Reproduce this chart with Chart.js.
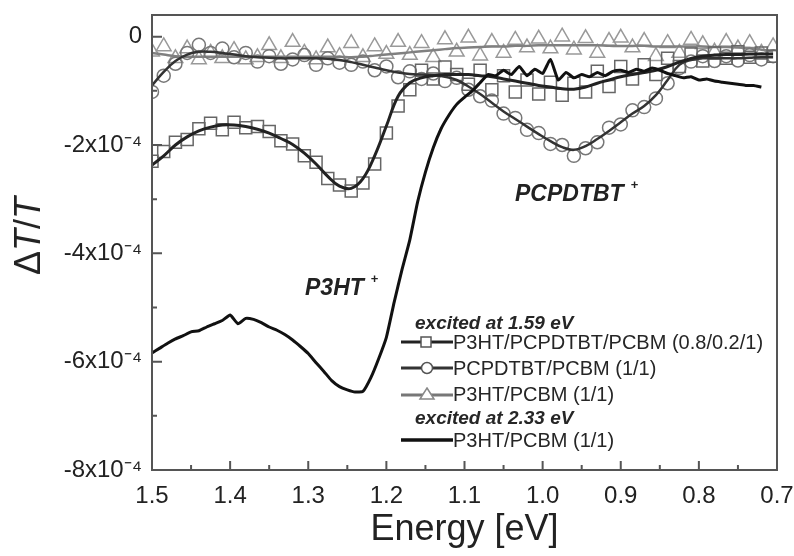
<!DOCTYPE html>
<html><head><meta charset="utf-8">
<script src="https://cdn.jsdelivr.net/npm/chart.js@4/dist/chart.umd.min.js"></script>
<style>
html,body{margin:0;padding:0;background:#fff;}
#wrap{position:relative;width:794px;height:556px;overflow:hidden;font-family:"Liberation Sans",Arial,sans-serif;color:#222;}
#c{position:absolute;left:0;top:0;}
.t{position:absolute;white-space:nowrap;line-height:1;transform:translateY(-50%);}
.lg{font-size:20px;color:#262626;}
.hd{font-size:19px;font-weight:bold;font-style:italic;color:#262626;}
.an{font-size:23px;font-weight:bold;font-style:italic;color:#222;}
.sp{font-size:13px;position:relative;top:-12px;margin-left:7px;font-style:normal;}
.smp{position:absolute;}
#ytitle{position:absolute;left:28px;top:236px;transform:translate(-50%,-50%) rotate(-90deg);font-size:36px;white-space:nowrap;line-height:1;color:#222;}
</style></head>
<body>
<div id="wrap">
<canvas id="c" width="794" height="556"></canvas>
<div id="ytitle">Δ<i>T</i>/<i>T</i></div>
<div class="t an" style="left:305px;top:287px;">P3HT<span class="sp">+</span></div>
<div class="t an" style="left:515px;top:193px;">PCPDTBT<span class="sp">+</span></div>
<div class="t hd" style="left:415px;top:322px;">excited at 1.59 eV</div>
<svg class="smp" style="left:401px;top:335px" width="52" height="14"><line x1="0" y1="7" x2="52" y2="7" stroke="#222" stroke-width="3"/><rect x="20" y="2" width="10" height="10" fill="#fff" stroke="#555" stroke-width="1.5"/></svg>
<div class="t lg" style="left:453px;top:342px;">P3HT/PCPDTBT/PCBM (0.8/0.2/1)</div>
<svg class="smp" style="left:401px;top:361px" width="52" height="14"><line x1="0" y1="7" x2="52" y2="7" stroke="#333" stroke-width="3"/><circle cx="26" cy="7" r="5.5" fill="#fff" stroke="#555" stroke-width="1.5"/></svg>
<div class="t lg" style="left:453px;top:368px;">PCPDTBT/PCBM (1/1)</div>
<svg class="smp" style="left:401px;top:387px" width="52" height="14"><line x1="0" y1="8" x2="52" y2="8" stroke="#777" stroke-width="3"/><polygon points="26,1 33,12 19,12" fill="#fff" stroke="#888" stroke-width="1.5"/></svg>
<div class="t lg" style="left:453px;top:394px;">P3HT/PCBM (1/1)</div>
<div class="t hd" style="left:415px;top:417px;">excited at 2.33 eV</div>
<svg class="smp" style="left:401px;top:433px" width="52" height="14"><line x1="0" y1="7" x2="52" y2="7" stroke="#111" stroke-width="3.5"/></svg>
<div class="t lg" style="left:453px;top:440px;">P3HT/PCBM (1/1)</div>
</div>
<script>
// Photon energy grid (eV) for the 1.59 eV-excited series
const energy = [1.500,1.485,1.470,1.455,1.440,1.425,1.410,1.395,1.380,1.365,1.350,1.335,1.320,1.305,1.290,1.275,1.260,1.245,1.230,1.215,1.200,1.185,1.170,1.155,1.140,1.125,1.110,1.095,1.080,1.065,1.050,1.035,1.020,1.005,0.990,0.975,0.960,0.945,0.930,0.915,0.900,0.885,0.870,0.855,0.840,0.825,0.810,0.795,0.780,0.765,0.750,0.735,0.720,0.705];
// ΔT/T in units of 1e-4
// P3HT/PCPDTBT/PCBM (0.8/0.2/1): fitted line and data markers
const sqFit = [-2.37,-2.20,-2.00,-1.85,-1.74,-1.67,-1.63,-1.63,-1.66,-1.71,-1.78,-1.88,-1.99,-2.15,-2.35,-2.58,-2.76,-2.80,-2.62,-2.20,-1.65,-1.10,-0.85,-0.76,-0.72,-0.70,-0.70,-0.70,-0.72,-0.74,-0.78,-0.82,-0.86,-0.90,-0.93,-0.96,-0.97,-0.93,-0.86,-0.80,-0.74,-0.70,-0.66,-0.62,-0.55,-0.47,-0.40,-0.36,-0.34,-0.33,-0.33,-0.32,-0.32,-0.32];
const sqMark = [-2.30,-2.12,-1.95,-1.90,-1.70,-1.60,-1.72,-1.58,-1.68,-1.66,-1.75,-1.92,-1.98,-2.20,-2.32,-2.62,-2.74,-2.85,-2.70,-2.35,-1.78,-1.28,-0.98,-0.62,-0.78,-0.56,-0.70,-0.88,-0.62,-0.98,-0.72,-1.02,-0.80,-1.06,-0.84,-1.08,-0.86,-1.02,-0.64,-0.92,-0.55,-0.78,-0.52,-0.70,-0.40,-0.55,-0.32,-0.45,-0.30,-0.40,-0.28,-0.38,-0.30,-0.36];
// PCPDTBT/PCBM (1/1)
const ciFit = [-0.90,-0.65,-0.45,-0.33,-0.28,-0.28,-0.30,-0.33,-0.36,-0.38,-0.39,-0.40,-0.40,-0.40,-0.40,-0.41,-0.43,-0.47,-0.52,-0.57,-0.62,-0.66,-0.69,-0.70,-0.71,-0.74,-0.80,-0.92,-1.06,-1.22,-1.38,-1.52,-1.66,-1.80,-1.93,-2.04,-2.09,-2.02,-1.89,-1.74,-1.58,-1.42,-1.28,-1.08,-0.80,-0.52,-0.43,-0.40,-0.40,-0.40,-0.40,-0.39,-0.38,-0.38];
const ciMark = [-1.02,-0.72,-0.50,-0.30,-0.15,-0.30,-0.22,-0.38,-0.30,-0.46,-0.36,-0.50,-0.42,-0.34,-0.52,-0.40,-0.48,-0.52,-0.46,-0.62,-0.55,-0.75,-0.64,-0.78,-0.68,-0.82,-0.76,-0.98,-1.10,-1.18,-1.42,-1.50,-1.72,-1.78,-1.98,-2.00,-2.20,-2.06,-1.95,-1.68,-1.62,-1.36,-1.30,-1.14,-0.86,-0.58,-0.46,-0.36,-0.45,-0.36,-0.44,-0.34,-0.42,-0.36];
// P3HT/PCBM (1/1), excited at 1.59 eV
const trFit = [-0.30,-0.33,-0.36,-0.37,-0.37,-0.37,-0.37,-0.37,-0.37,-0.37,-0.37,-0.37,-0.37,-0.37,-0.37,-0.37,-0.37,-0.38,-0.37,-0.35,-0.33,-0.31,-0.29,-0.27,-0.25,-0.23,-0.21,-0.20,-0.19,-0.18,-0.18,-0.17,-0.17,-0.16,-0.16,-0.16,-0.16,-0.16,-0.16,-0.17,-0.17,-0.17,-0.17,-0.18,-0.18,-0.18,-0.18,-0.18,-0.19,-0.19,-0.20,-0.21,-0.24,-0.27];
const trMark = [-0.28,-0.18,-0.40,-0.22,-0.42,-0.30,-0.40,-0.25,-0.42,-0.38,-0.16,-0.40,-0.10,-0.30,-0.42,-0.20,-0.36,-0.12,-0.38,-0.18,-0.32,-0.10,-0.34,-0.12,-0.38,-0.05,-0.28,-0.02,-0.35,-0.10,-0.30,-0.06,-0.20,-0.04,-0.22,0.00,-0.24,-0.03,-0.30,-0.08,-0.02,-0.20,-0.08,-0.36,-0.12,-0.30,-0.06,-0.14,-0.28,-0.10,-0.22,-0.12,-0.30,-0.18];
// P3HT/PCBM (1/1), excited at 2.33 eV
const energy233 = [1.50,1.49,1.48,1.47,1.46,1.45,1.44,1.43,1.42,1.41,1.40,1.39,1.38,1.37,1.36,1.35,1.34,1.33,1.32,1.31,1.30,1.29,1.28,1.27,1.26,1.25,1.24,1.23,1.22,1.21,1.20,1.19,1.18,1.17,1.16,1.15,1.14,1.13,1.12,1.11,1.10,1.09,1.08,1.07,1.06,1.05,1.04,1.03,1.02,1.01,1.00,0.99,0.98,0.97,0.96,0.95,0.94,0.93,0.92,0.91,0.90,0.89,0.88,0.87,0.86,0.85,0.84,0.83,0.82,0.81,0.80,0.79,0.78,0.77,0.76,0.75,0.74,0.73,0.72];
const p3ht233 = [-5.84,-5.75,-5.66,-5.58,-5.52,-5.45,-5.43,-5.36,-5.30,-5.24,-5.14,-5.30,-5.20,-5.22,-5.28,-5.36,-5.42,-5.50,-5.60,-5.72,-5.85,-6.02,-6.18,-6.35,-6.46,-6.52,-6.56,-6.55,-6.30,-5.95,-5.55,-4.90,-4.30,-3.75,-3.05,-2.50,-2.05,-1.70,-1.45,-1.25,-1.12,-1.00,-0.85,-0.70,-0.72,-0.62,-0.70,-0.55,-0.72,-0.60,-0.68,-0.42,-0.80,-0.66,-0.76,-0.70,-0.74,-0.66,-0.72,-0.64,-0.62,-0.66,-0.60,-0.64,-0.58,-0.62,-0.68,-0.72,-0.76,-0.74,-0.80,-0.78,-0.82,-0.84,-0.86,-0.88,-0.90,-0.90,-0.93];
// Tick labels
const xTickValues = [1.5,1.4,1.3,1.2,1.1,1.0,0.9,0.8,0.7];
const xTickLabels = ['1.5','1.4','1.3','1.2','1.1','1.0','0.9','0.8','0.7'];
const yTickValues = [0,-2,-4,-6,-8];
const yTickLabels = ['0','-2x10\u207B\u2074','-4x10\u207B\u2074','-6x10\u207B\u2074','-8x10\u207B\u2074'];

const FONT = '"Liberation Sans", Arial, sans-serif';
const pts = (xs, ys) => xs.map((x, i) => ({x: x, y: ys[i]}));

const frame = {
  id: 'frame',
  afterDatasetsDraw(chart) {
    const {ctx, chartArea: a, scales: {x, y}} = chart;
    ctx.save();
    ctx.strokeStyle = '#555';
    ctx.lineWidth = 2;
    ctx.strokeRect(a.left, a.top, a.right - a.left, a.bottom - a.top);
    ctx.beginPath();
    x.ticks.forEach(t => {
      const px = x.getPixelForValue(t.value);
      const major = Math.round(t.value * 100) % 10 === 0;
      const L = major ? 9 : 5;
      ctx.moveTo(px, a.bottom); ctx.lineTo(px, a.bottom - L);
    });
    y.ticks.forEach(t => {
      if (Math.abs(t.value - Math.round(t.value)) > 1e-6) return;
      const py = y.getPixelForValue(t.value);
      const major = Math.round(t.value) % 2 === 0;
      const L = major ? 10 : 5;
      ctx.moveTo(a.left, py); ctx.lineTo(a.left + L, py);
    });
    ctx.stroke();
    ctx.restore();
  }
};

new Chart(document.getElementById('c'), {
  type: 'line',
  data: {
    datasets: [
      {label: 'P3HT/PCBM (1/1) 2.33 eV', data: pts(energy233, p3ht233), borderColor: '#111', borderWidth: 3, pointRadius: 0, tension: 0.15, order: 0},
      {label: 'P3HT/PCPDTBT/PCBM fit', data: pts(energy, sqFit), borderColor: '#222', borderWidth: 3, pointRadius: 0, tension: 0.4, order: 1},
      {label: 'PCPDTBT/PCBM fit', data: pts(energy, ciFit), borderColor: '#333', borderWidth: 2.5, pointRadius: 0, tension: 0.4, order: 2},
      {label: 'P3HT/PCPDTBT/PCBM (0.8/0.2/1)', data: pts(energy, sqMark), showLine: false, pointStyle: 'rect', pointRadius: 8.5, borderColor: '#666', borderWidth: 1.5, backgroundColor: 'rgba(0,0,0,0)', order: 3},
      {label: 'PCPDTBT/PCBM (1/1)', data: pts(energy, ciMark), showLine: false, pointStyle: 'circle', pointRadius: 6.5, borderColor: '#777', borderWidth: 1.5, backgroundColor: 'rgba(0,0,0,0)', order: 4},
      {label: 'P3HT/PCBM fit 1.59 eV', data: pts(energy, trFit), borderColor: '#808080', borderWidth: 2.5, pointRadius: 0, tension: 0.4, order: 5},
      {label: 'P3HT/PCBM (1/1) 1.59 eV', data: pts(energy, trMark), showLine: false, pointStyle: 'triangle', pointRadius: 8.5, borderColor: '#999', borderWidth: 1.5, backgroundColor: 'rgba(0,0,0,0)', order: 6}
    ]
  },
  options: {
    responsive: false,
    animation: false,
    devicePixelRatio: 1,
    layout: {padding: {top: 15, right: 17, left: 0, bottom: 0}},
    plugins: {legend: {display: false}, tooltip: {enabled: false}},
    scales: {
      x: {
        type: 'linear', reverse: true, min: 0.7, max: 1.5,
        afterFit: s => { s.height = 86; s.paddingLeft = 0; s.paddingRight = 0; },
        grid: {display: false, drawTicks: false},
        border: {display: false},
        ticks: {
          stepSize: 0.05, autoSkip: false, maxRotation: 0, padding: 12, color: '#222',
          font: {family: FONT, size: 24},
          callback: v => {
            const i = xTickValues.findIndex(e => Math.abs(e - v) < 1e-6);
            return i >= 0 ? xTickLabels[i] : '';
          }
        },
        title: {display: true, text: 'Energy [eV]', color: '#222', font: {family: FONT, size: 36}, padding: {top: 0, bottom: 4}}
      },
      y: {
        min: -8, max: 0.4,
        afterFit: s => { s.width = 152; s.paddingTop = 0; s.paddingBottom = 0; },
        grid: {display: false, drawTicks: false},
        border: {display: false},
        ticks: {
          stepSize: 1, includeBounds: false, autoSkip: false, padding: 10, color: '#222',
          font: {family: FONT, size: 24},
          callback: v => {
            const i = yTickValues.findIndex(e => Math.abs(e - v) < 1e-6);
            return i >= 0 ? yTickLabels[i] : '';
          }
        }
      }
    }
  },
  plugins: [frame]
});
</script>
</body></html>
